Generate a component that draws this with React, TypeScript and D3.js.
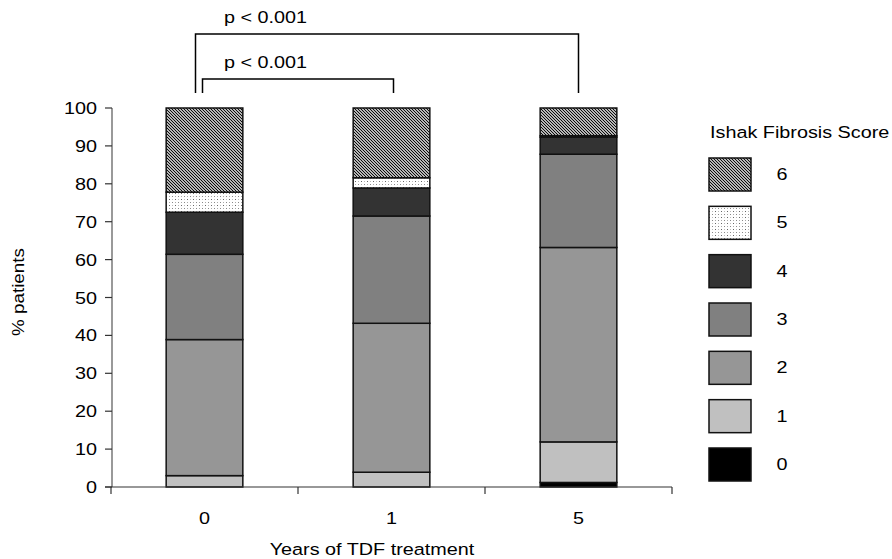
import { useEffect, useRef } from 'react';
import * as d3 from 'd3';

// years of treatment (x categories) and Ishak fibrosis scores (stack keys)
const years = ['0', '1', '5'];
const scores = ['0', '1', '2', '3', '4', '5', '6'];

// % patients per score, one value per year
const score0 = [0, 0, 1.2];
const score1 = [3.0, 3.9, 10.7];
const score2 = [35.9, 39.3, 51.3];
const score3 = [22.5, 28.3, 24.6];
const score4 = [11.1, 7.4, 4.5];
const score5 = [5.3, 2.7, 0.4];
const score6 = [22.2, 18.4, 7.3];

const yTicks = [0, 10, 20, 30, 40, 50, 60, 70, 80, 90, 100];

// significance brackets: [from year, to year, label]
const comparisons: [string, string, string][] = [
  ['0', '1', 'p < 0.001'],
  ['0', '5', 'p < 0.001'],
];

const FONT = '"Liberation Sans", Arial, sans-serif';
const STRETCH = 1.2;

const App = () => {
  const ref = useRef<SVGSVGElement>(null);

  const width = 892;
  const height = 559;

  useEffect(() => {
    const svg = d3.select(ref.current);
    svg.selectAll('*').remove();

    const columns = [score0, score1, score2, score3, score4, score5, score6];
    const table = years.map((yr, i) => {
      const row: any = { year: yr };
      scores.forEach((s, k) => (row[s] = columns[k][i]));
      return row;
    });

    const x = d3.scaleBand().domain(years).range([111, 672]);
    const y = d3.scaleLinear().domain([0, 100]).range([487, 108]);
    const barW = x.bandwidth() * 0.41;
    const cx = (d: string) => (x(d) as number) + x.bandwidth() / 2;

    const fills: Record<string, string> = {
      '0': '#000000',
      '1': '#c0c0c0',
      '2': '#969696',
      '3': '#808080',
      '4': '#333333',
      '5': 'url(#dots)',
      '6': 'url(#hatch)',
    };

    // patterns
    const defs = svg.append('defs');
    const hatch = defs
      .append('pattern')
      .attr('id', 'hatch')
      .attr('patternUnits', 'userSpaceOnUse')
      .attr('width', 3)
      .attr('height', 3);
    hatch.append('rect').attr('width', 3).attr('height', 3).attr('fill', '#fff');
    hatch
      .append('path')
      .attr('d', 'M-1,-1 L4,4 M-1,2 L1,4 M2,-1 L4,1')
      .attr('stroke', '#000')
      .attr('stroke-width', 1.1);

    const dots = defs
      .append('pattern')
      .attr('id', 'dots')
      .attr('patternUnits', 'userSpaceOnUse')
      .attr('width', 6)
      .attr('height', 6);
    dots.append('rect').attr('width', 6).attr('height', 6).attr('fill', '#fff');
    dots.append('rect').attr('x', 1).attr('y', 1).attr('width', 1).attr('height', 1).attr('fill', '#666');
    dots.append('rect').attr('x', 4).attr('y', 4).attr('width', 1).attr('height', 1).attr('fill', '#888');
    dots.append('rect').attr('x', 1).attr('y', 4).attr('width', 1).attr('height', 1).attr('fill', '#aaa');
    dots.append('rect').attr('x', 4).attr('y', 1).attr('width', 1).attr('height', 1).attr('fill', '#bbb');

    const stretchText = (g: any, tx: number, ty: number, txt: string, anchor = 'start', size = 16.5) =>
      g
        .append('text')
        .attr('transform', `translate(${tx},${ty}) scale(${STRETCH},1)`)
        .attr('text-anchor', anchor)
        .style('font-family', FONT)
        .style('font-size', size + 'px')
        .attr('fill', '#000')
        .text(txt);

    // stacked bars
    const series = d3.stack().keys(scores)(table);
    svg
      .append('g')
      .selectAll('g')
      .data(series)
      .enter()
      .append('g')
      .attr('fill', (d: any) => fills[d.key])
      .selectAll('rect')
      .data((d: any) => d.filter((p: any) => p[1] - p[0] > 0))
      .enter()
      .append('rect')
      .attr('x', (d: any) => cx(d.data.year) - barW / 2)
      .attr('y', (d: any) => y(d[1]))
      .attr('width', barW)
      .attr('height', (d: any) => y(d[0]) - y(d[1]))
      .attr('stroke', '#111')
      .attr('stroke-width', 1.5);

    // y axis
    const yAxis = svg.append('g');
    yAxis
      .append('line')
      .attr('x1', 112)
      .attr('x2', 112)
      .attr('y1', y(100))
      .attr('y2', y(0))
      .attr('stroke', '#555')
      .attr('stroke-width', 1.2);
    yTicks.forEach((t) => {
      yAxis
        .append('line')
        .attr('x1', 105)
        .attr('x2', 112)
        .attr('y1', y(t))
        .attr('y2', y(t))
        .attr('stroke', '#333')
        .attr('stroke-width', 1.2);
      stretchText(yAxis, 97, y(t) + 6, String(t), 'end');
    });

    // x axis
    const xAxis = svg.append('g');
    xAxis
      .append('line')
      .attr('x1', 105)
      .attr('x2', x.range()[1])
      .attr('y1', y(0))
      .attr('y2', y(0))
      .attr('stroke', '#333')
      .attr('stroke-width', 1.2);
    const bounds = [...years.map((d) => x(d) as number), x.range()[1]];
    bounds.forEach((b) => {
      xAxis
        .append('line')
        .attr('x1', b)
        .attr('x2', b)
        .attr('y1', y(0))
        .attr('y2', y(0) + 7)
        .attr('stroke', '#333')
        .attr('stroke-width', 1.2);
    });
    years.forEach((d) => stretchText(xAxis, cx(d), 524, d, 'middle'));
    stretchText(xAxis, 372, 555, 'Years of TDF treatment', 'middle');

    // y title
    svg
      .append('text')
      .attr('transform', `translate(24,292) rotate(-90) scale(1.14,1)`)
      .attr('text-anchor', 'middle')
      .style('font-family', FONT)
      .style('font-size', '16.5px')
      .text('% patients');

    // significance brackets
    const br = svg.append('g');
    comparisons.forEach(([a, b, label], i) => {
      const top = i === 0 ? 79 : 34;
      const x0 = cx(a) - (i === 0 ? 2 : 9);
      const x1 = cx(b) + (i === 0 ? 2 : 0);
      br.append('path')
        .attr('d', `M${x0},93 V${top} H${x1} V93`)
        .attr('fill', 'none')
        .attr('stroke', '#000')
        .attr('stroke-width', 1.5);
      stretchText(br, 224, top - 11, label);
    });

    // legend
    const leg = svg.append('g');
    stretchText(leg, 710, 138, 'Ishak Fibrosis Score');
    const ly = d3.scalePoint().domain([...scores].reverse()).range([158, 448]);
    scores.forEach((s) => {
      const top = ly(s) as number;
      leg.append('rect')
        .attr('x', 709)
        .attr('y', top)
        .attr('width', 42)
        .attr('height', 33)
        .attr('fill', fills[s])
        .attr('stroke', '#111')
        .attr('stroke-width', 1.5);
      stretchText(leg, 782, top + 22, s, 'middle');
    });
  }, [width, height]);

  return (
    <svg
      ref={ref}
      width={width}
      height={height}
      style={{ position: 'absolute', left: 0, top: 0, background: '#fff' }}
    />
  );
};

export default App;
